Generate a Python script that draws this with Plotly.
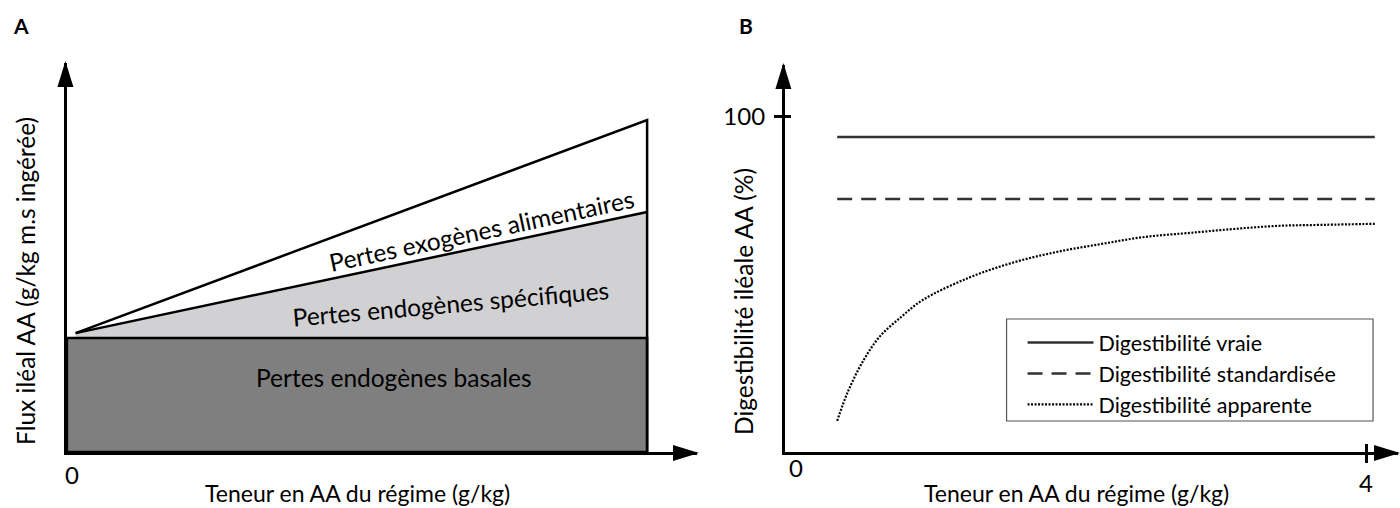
import plotly.graph_objects as go

W, H = 1400, 508
FONT = "Lato"

# ---------------- Panel A data ----------------
teneur_A = [0.15, 10.0]              # start / end of the diet AA range
rect_x = [0.0, 10.0]                 # extent of basal-loss block
pertes_basales = 3.0                 # basal endogenous losses (flat)
pertes_endogenes_tot = [3.13, 6.32]  # basal + specific endogenous
pertes_totales = [3.13, 8.74]        # + exogenous dietary
xA_max, yA_max = 10.86, 10.24

# ---------------- Panel B data ----------------
teneur_B = [0.36, 4.06]
dig_vraie = [94.0, 94.0]
dig_standard = [75.5, 75.5]
teneur_app = [0.36, 0.43, 0.53, 0.65, 0.80, 0.95, 1.26, 1.56, 1.87, 2.18,
              2.48, 2.79, 3.10, 3.40, 3.71, 4.06]
dig_apparente = [9.3, 17.6, 26.5, 34.3, 40.3, 45.4, 51.9, 56.4, 59.7, 62.1,
                 64.2, 65.4, 66.6, 67.5, 67.8, 68.1]
xB_max, yB_max = 4.22, 115.5
yB_ticks, yB_ticktext = [100], ["100"]


def px(x):
    return x / W


def py(y):
    return 1 - y / H


fig = go.Figure()

# ---- Panel A ----
fig.add_trace(go.Scatter(
    x=teneur_A + teneur_A[::-1],
    y=pertes_endogenes_tot + [pertes_basales, pertes_basales],
    fill="toself", fillcolor="#d1d0d2", line=dict(width=0),
    mode="lines", showlegend=False, hoverinfo="skip", xaxis="x", yaxis="y"))
fig.add_trace(go.Scatter(
    x=[rect_x[0], rect_x[1], rect_x[1], rect_x[0], rect_x[0]],
    y=[0, 0, pertes_basales, pertes_basales, 0],
    fill="toself", fillcolor="#7f7f7f", line=dict(color="black", width=2.5),
    mode="lines", showlegend=False, hoverinfo="skip", xaxis="x", yaxis="y"))
fig.add_trace(go.Scatter(
    x=teneur_A, y=pertes_endogenes_tot, mode="lines",
    line=dict(color="black", width=2.5), showlegend=False, xaxis="x", yaxis="y"))
fig.add_trace(go.Scatter(
    x=teneur_A + [teneur_A[1]], y=pertes_totales + [0], mode="lines",
    line=dict(color="black", width=2.5), showlegend=False, xaxis="x", yaxis="y"))

# ---- Panel B ----
fig.add_trace(go.Scatter(
    x=teneur_B, y=dig_vraie, mode="lines", name="Digestibilité vraie",
    line=dict(color="#333333", width=2.5), xaxis="x2", yaxis="y2"))
fig.add_trace(go.Scatter(
    x=teneur_B, y=dig_standard, mode="lines", name="Digestibilité standardisée",
    line=dict(color="#333333", width=2.5, dash="15px,9px"), xaxis="x2", yaxis="y2"))
fig.add_trace(go.Scatter(
    x=teneur_app, y=dig_apparente, mode="lines", name="Digestibilité apparente",
    line=dict(color="black", width=2.2, dash="2px,1.5px", shape="spline"),
    xaxis="x2", yaxis="y2"))
# invisible trace to host the overlay tick axes
fig.add_trace(go.Scatter(x=[0], y=[0], mode="markers", marker=dict(opacity=0),
                         showlegend=False, hoverinfo="skip", xaxis="x3", yaxis="y3"))

tickfont = dict(family=FONT, size=24, color="black")
common = dict(showgrid=False, zeroline=False, fixedrange=True)

fig.update_layout(
    width=W, height=H,
    margin=dict(l=0, r=0, t=0, b=0),
    paper_bgcolor="white", plot_bgcolor="white",
    font=dict(family=FONT, color="black"),
    xaxis=dict(domain=[px(65), px(696)], range=[0, xA_max], anchor="y",
               showline=True, linewidth=3, linecolor="black",
               tickvals=[0], ticktext=["0"], ticks="", ticklabelshift=5,
               tickfont=tickfont, **common),
    yaxis=dict(domain=[py(452), py(63)], range=[0, yA_max], anchor="x",
               showline=True, linewidth=3, linecolor="black",
               showticklabels=False, ticks="", **common),
    xaxis2=dict(domain=[px(784), px(1398)], range=[0, xB_max], anchor="y2",
                showline=True, linewidth=3, linecolor="black",
                tickvals=[4], ticktext=["4"], ticks="outside",
                ticklen=8, tickwidth=2.5, tickcolor="black", tickfont=tickfont, **common),
    yaxis2=dict(domain=[py(452), py(65)], range=[0, yB_max], anchor="x2",
                showline=True, linewidth=3, linecolor="black",
                tickvals=yB_ticks, ticktext=yB_ticktext, ticks="outside",
                ticklen=8, tickwidth=2.5, tickcolor="black", tickfont=tickfont,
                ticklabelstandoff=4, **common),
    xaxis3=dict(overlaying="x2", range=[0, xB_max], anchor="y3", side="bottom",
                tickvals=[0, 4], ticktext=["0", ""], ticks="inside", ticklen=8,
                tickwidth=2.5, tickcolor="black", showticklabels=True,
                ticklabelshift=11, tickfont=tickfont, showline=False, **common),
    yaxis3=dict(overlaying="y2", range=[0, yB_max], anchor="x3",
                tickvals=[100], ticks="inside", ticklen=6, tickwidth=2.5,
                tickcolor="black", showticklabels=False, showline=False, **common),
    legend=dict(x=px(1022), y=py(322), xanchor="left", yanchor="top",
                bgcolor="rgba(0,0,0,0)", borderwidth=0,
                font=dict(family=FONT, size=21.5, color="black"),
                itemwidth=66, tracegroupgap=0),
    showlegend=True,
)

# legend frame
fig.add_shape(type="rect", xref="paper", yref="paper",
              x0=px(1006), x1=px(1373), y0=py(421), y1=py(319),
              line=dict(color="#555555", width=1.2), fillcolor="rgba(0,0,0,0)")

# arrowheads at axis ends (pixel-sized shapes anchored at the axis domain ends)
for xd0, xd1, yd0, yd1 in [(px(65), px(696), py(452), py(63)),
                           (px(784), px(1398), py(452), py(65))]:
    fig.add_shape(type="path", xref="paper", yref="paper",
                  xsizemode="pixel", ysizemode="pixel",
                  xanchor=xd1, yanchor=yd0, path="M2,-1 L-24,7 L-24,-9 Z",
                  fillcolor="black", line=dict(width=0))
    fig.add_shape(type="path", xref="paper", yref="paper",
                  xsizemode="pixel", ysizemode="pixel",
                  xanchor=xd0, yanchor=yd1, path="M-1.5,2 L-9.5,-24 L6.5,-24 Z",
                  fillcolor="black", line=dict(width=0))

ann = []
# region labels panel A
ann.append(dict(x=7.14, y=5.84, xref="x", yref="y", text="Pertes exogènes alimentaires",
                textangle=-12, showarrow=False, font=dict(size=24.5)))
ann.append(dict(x=6.61, y=3.92, xref="x", yref="y", text="Pertes endogènes spécifiques",
                textangle=-5, showarrow=False, font=dict(size=24.5)))
ann.append(dict(x=5.63, y=1.97, xref="x", yref="y", text="Pertes endogènes basales",
                showarrow=False, font=dict(size=24.5)))
# axis titles
ann.append(dict(x=px(356), y=py(493), xref="paper", yref="paper", xanchor="center",
                yanchor="middle", text="Teneur en AA du régime (g/kg)", showarrow=False,
                font=dict(size=23)))
ann.append(dict(x=px(1076), y=py(493), xref="paper", yref="paper", xanchor="center",
                yanchor="middle", text="Teneur en AA du régime (g/kg)", showarrow=False,
                font=dict(size=23)))
ann.append(dict(x=px(23), y=py(281), xref="paper", yref="paper", textangle=-90,
                xanchor="center", yanchor="middle",
                text="Flux iléal AA (g/kg m.s ingérée)", showarrow=False,
                font=dict(size=24.5)))
ann.append(dict(x=px(742), y=py(301), xref="paper", yref="paper", textangle=-90,
                xanchor="center", yanchor="middle",
                text="Digestibilité iléale AA (%)", showarrow=False, font=dict(size=24.5)))
# panel letters
ann.append(dict(x=px(9), y=py(25), xref="paper", yref="paper", xanchor="left",
                yanchor="middle", text="<b>A</b>", showarrow=False, font=dict(size=21)))
ann.append(dict(x=px(736), y=py(25), xref="paper", yref="paper", xanchor="left",
                yanchor="middle", text="<b>B</b>", showarrow=False, font=dict(size=21)))
fig.update_layout(annotations=ann)

fig.write_html("out.html",
               config={"displayModeBar": False},
               post_script="document.body.style.margin='0px';"
                           "document.body.style.overflow='hidden';")
